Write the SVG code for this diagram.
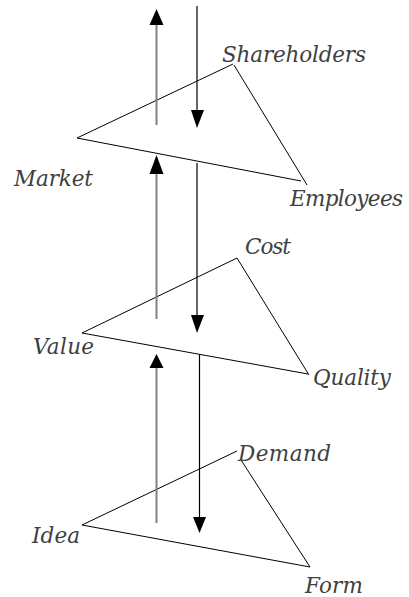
<svg xmlns="http://www.w3.org/2000/svg" width="409" height="597" viewBox="0 0 409 597">
<defs>
<style>
.lbl{font-family:"DejaVu Serif","Liberation Serif",serif;font-style:italic;font-size:21.5px;fill:#404040}
.tri{fill:none;stroke:#000;stroke-width:1}
.up{stroke:#808080;stroke-width:2}
.dn{stroke:#000;stroke-width:1.2}
</style>
</defs>
<rect width="409" height="597" fill="#fff"/>
<g id="top-triangle">
<polyline class="tri" points="233,64 77,138 301,181"/>
<line class="tri" x1="234" y1="65" x2="307" y2="185"/>
<text class="lbl" x="222" y="62" textLength="144">Shareholders</text>
<text class="lbl" x="14" y="186" textLength="79">Market</text>
<text class="lbl" x="290" y="206" textLength="113">Employees</text>
</g>
<g id="middle-triangle">
<polyline class="tri" points="237,258 82,333 308,374"/>
<line class="tri" x1="237" y1="258" x2="309" y2="375"/>
<text class="lbl" x="245" y="254" textLength="46">Cost</text>
<text class="lbl" x="33" y="354" textLength="61">Value</text>
<text class="lbl" x="313" y="385" textLength="78">Quality</text>
</g>
<g id="bottom-triangle">
<polyline class="tri" points="237,451 82,525 310,567"/>
<line class="tri" x1="241" y1="460" x2="310" y2="567"/>
<text class="lbl" x="238" y="461" textLength="93">Demand</text>
<text class="lbl" x="32" y="543" textLength="48">Idea</text>
<text class="lbl" x="305" y="593" textLength="58">Form</text>
</g>
<g id="connectors">
<line class="up" x1="156.5" y1="125" x2="156.5" y2="24"/>
<polygon points="156.5,9 149.5,25 163.5,25" fill="#000"/>
<line class="dn" x1="197" y1="6" x2="197" y2="112"/>
<polygon points="197,128 191,110 204,110" fill="#000"/>
<line class="up" x1="156.5" y1="319" x2="156.5" y2="172"/>
<polygon points="156.5,155 149.5,174 163.5,174" fill="#000"/>
<line class="dn" x1="197" y1="163" x2="197" y2="317"/>
<polygon points="197,333 191,315 204,315" fill="#000"/>
<line class="up" x1="156.5" y1="523" x2="156.5" y2="366"/>
<polygon points="156.5,354 149.5,368 163.5,368" fill="#000"/>
<line class="dn" x1="199.5" y1="354" x2="199.5" y2="518"/>
<polygon points="199.5,533 193,517 206,517" fill="#000"/>
</g>
</svg>
